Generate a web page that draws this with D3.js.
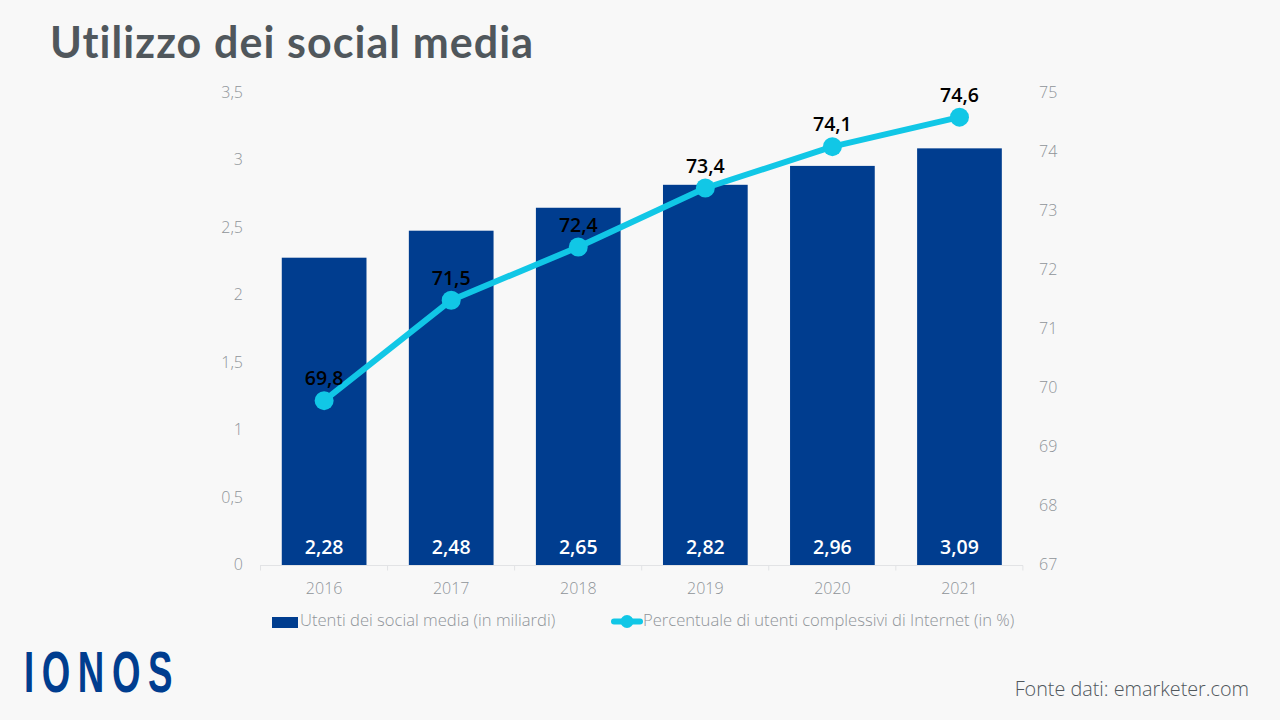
<!DOCTYPE html>
<meta charset="utf-8">

<style>
	html, body { margin:0; padding:0; background:#f8f8f8; }
	svg { display:block; }
	text { font-family:"Open Sans", sans-serif; }
	.axis path { display:none; }
	.axis line { display:none; }
	.axis text { font-size:16px; font-weight:300; fill:#8f9499; }
	.xaxis line { display:block; stroke:#e2e3e5; }
</style>

<script src="https://d3js.org/d3.v7.min.js"></script>

<body>
	<svg id="chart" width="1280" height="720"></svg>

	<script>
		var years = ["2016", "2017", "2018", "2019", "2020", "2021"];
		var users = [2.28, 2.48, 2.65, 2.82, 2.96, 3.09];
		var share = [69.8, 71.5, 72.4, 73.4, 74.1, 74.6];
		var leftTicks = [0, 0.5, 1, 1.5, 2, 2.5, 3, 3.5];
		var rightTicks = [67, 68, 69, 70, 71, 72, 73, 74, 75];

		var blue = "#003d8f";
		var cyan = "#11c7e6";
		var comma = function(d) { return String(d).replace(".", ","); };

		var svg = d3.select("#chart");

		var x = d3.scaleBand().domain(years).range([260.6, 1023]).paddingInner(1/3).paddingOuter(1/6);
		var yLeft = d3.scaleLinear().domain([0, 3.5]).range([565.5, 93]);
		var yRight = d3.scaleLinear().domain([67, 75]).range([566, 93.5]);

		// title
		svg.append("text")
			.attr("x", 50).attr("y", 58)
			.style("font-family", "Lato, sans-serif")
			.style("font-size", "43px")
			.style("font-weight", 700)
			.style("font-variant-ligatures", "none")
			.style("letter-spacing", "1.07px")
			.attr("fill", "#50575c")
			.text("Utilizzo dei social media");

		// bars
		svg.selectAll(".bar")
			.data(years)
			.enter().append("rect")
			.attr("class", "bar")
			.attr("x", function(d) { return x(d); })
			.attr("width", x.bandwidth())
			.attr("y", function(d, i) { return yLeft(users[i]); })
			.attr("height", function(d, i) { return yLeft(0) - yLeft(users[i]); })
			.attr("fill", blue);

		// axes
		svg.append("g")
			.attr("class", "axis")
			.attr("transform", "translate(243,-1)")
			.call(d3.axisLeft(yLeft).tickValues(leftTicks).tickFormat(comma).tickSize(0).tickPadding(0));

		svg.append("g")
			.attr("class", "axis")
			.attr("transform", "translate(1039,-1.5)")
			.call(d3.axisRight(yRight).tickValues(rightTicks).tickFormat(d3.format("d")).tickSize(0).tickPadding(0));

		var xAxis = svg.append("g")
			.attr("class", "axis xaxis")
			.attr("transform", "translate(0,565.5)")
			.call(d3.axisBottom(x).tickSize(0).tickPadding(17));

		// x ticks sit between the bands
		var step = x.step();
		xAxis.selectAll(".border")
			.data(d3.range(years.length + 1))
			.enter().append("line")
			.attr("class", "border")
			.attr("x1", function(i) { return 260.5 + i * step; })
			.attr("x2", function(i) { return 260.5 + i * step; })
			.attr("y1", 0).attr("y2", 5);
		xAxis.append("line").attr("x1", 260).attr("x2", 1023).attr("y1", 0).attr("y2", 0);

		// line
		var line = d3.line()
			.x(function(d, i) { return x(years[i]) + x.bandwidth() / 2; })
			.y(function(d) { return yRight(d); });

		svg.append("path")
			.attr("d", line(share))
			.attr("fill", "none")
			.attr("stroke", cyan)
			.attr("stroke-width", 6)
			.attr("stroke-linecap", "round")
			.attr("stroke-linejoin", "round");

		svg.selectAll(".dot")
			.data(share)
			.enter().append("circle")
			.attr("class", "dot")
			.attr("cx", function(d, i) { return x(years[i]) + x.bandwidth() / 2; })
			.attr("cy", function(d) { return yRight(d); })
			.attr("r", 9.5)
			.attr("fill", cyan);

		// value labels
		svg.selectAll(".shareLabel")
			.data(share)
			.enter().append("text")
			.attr("class", "shareLabel")
			.attr("x", function(d, i) { return x(years[i]) + x.bandwidth() / 2; })
			.attr("y", function(d) { return yRight(d) - 15.5; })
			.attr("text-anchor", "middle")
			.style("font-size", "19.5px")
			.style("font-weight", 600)
			.attr("fill", "#000")
			.text(function(d) { return comma(d); });

		svg.selectAll(".userLabel")
			.data(users)
			.enter().append("text")
			.attr("class", "userLabel")
			.attr("x", function(d, i) { return x(years[i]) + x.bandwidth() / 2; })
			.attr("y", 554)
			.attr("text-anchor", "middle")
			.style("font-size", "19.5px")
			.style("font-weight", 600)
			.attr("fill", "#fff")
			.text(function(d) { return comma(d.toFixed(2)); });

		// legend
		svg.append("rect").attr("x", 272).attr("y", 617).attr("width", 26).attr("height", 11).attr("fill", blue);
		svg.append("text").attr("x", 300).attr("y", 625.5)
			.style("font-size", "16.6px").style("font-weight", 300).attr("fill", "#8f9499")
			.text("Utenti dei social media (in miliardi)");

		svg.append("line").attr("x1", 614).attr("x2", 640).attr("y1", 621.5).attr("y2", 621.5)
			.attr("stroke", cyan).attr("stroke-width", 6).attr("stroke-linecap", "round");
		svg.append("circle").attr("cx", 627).attr("cy", 621.5).attr("r", 6.5).attr("fill", cyan);
		svg.append("text").attr("x", 643).attr("y", 625.5)
			.style("font-size", "16.6px").style("font-weight", 300).attr("fill", "#8f9499")
			.text("Percentuale di utenti complessivi di Internet (in %)");

		// logo + source
		svg.append("text").attr("x", 24).attr("y", 692)
			.attr("textLength", 156).attr("lengthAdjust", "spacingAndGlyphs")
			.style("font-family", "'Liberation Sans', sans-serif")
			.style("font-size", "58px").style("font-weight", 700).style("letter-spacing", "12px")
			.attr("fill", blue)
			.text("IONOS");

		svg.append("text").attr("x", 1249).attr("y", 696).attr("text-anchor", "end")
			.style("font-size", "19.8px").style("font-weight", 300).attr("fill", "#50575c")
			.text("Fonte dati: emarketer.com");
	</script>

</body>
